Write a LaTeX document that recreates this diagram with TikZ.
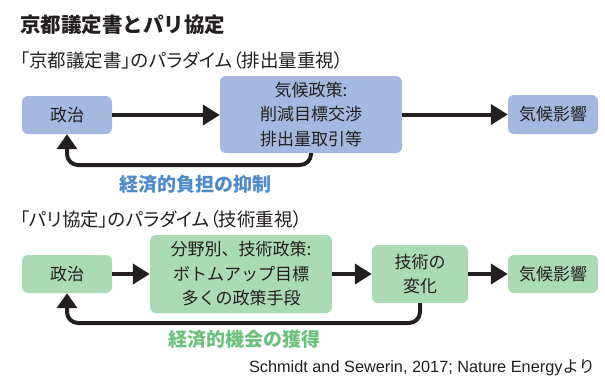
\documentclass[tikz,border=0pt]{standalone}
\usepackage{fontspec}
\setmainfont{Noto Sans CJK JP}
\newfontfamily\latinsans{Liberation Sans}
\newfontfamily\cjkpalt[RawFeature=+palt]{Noto Sans CJK JP}
\usetikzlibrary{arrows.meta}
\definecolor{bluebox}{HTML}{A4B8E0}
\definecolor{greenbox}{HTML}{AADBB4}
\definecolor{bluetxt}{HTML}{4F8BCB}
\definecolor{greentxt}{HTML}{6BC17C}
\definecolor{ink}{HTML}{231F20}
\begin{document}
\begin{tikzpicture}[x=1pt,y=-1pt,
  box/.style={rounded corners=6pt, inner sep=0pt, align=center, text=ink,
    font=\fontsize{17}{24.5}\selectfont},
  bbox/.style={box, fill=bluebox},
  gbox/.style={box, fill=greenbox},
  arr/.style={draw=ink, line width=4pt, -{Triangle[length=17pt,width=20pt]}},
  fb/.style={draw=ink, line width=4pt, rounded corners=11pt, -{Triangle[length=15pt,width=20pt]}},
  heading/.style={anchor=west, text=ink, inner sep=0pt},
  fblabel/.style={font=\fontsize{19}{21}\selectfont\bfseries, inner sep=0pt}
]
\useasboundingbox (0,0) rectangle (605,381);

\node[heading, font=\fontsize{20.5}{22}\selectfont\bfseries] (title) at (20,25) {京都議定書とパリ協定};
\node[heading, font=\cjkpalt\fontsize{18.5}{20}\selectfont] (sub1) at (20,60) {「京都議定書」のパラダイム（排出量重視）};
\node[heading, font=\cjkpalt\fontsize{18.5}{20}\selectfont] (sub2) at (20,219) {「パリ協定」のパラダイム（技術重視）};

% top row
\node[bbox, minimum width=90pt, minimum height=38pt] (p1) at (67,115) {政治};
\node[bbox, minimum width=182pt, minimum height=77pt] (pol1) at (311,114.5) {気候政策:\\削減目標交渉\\排出量取引等};
\node[bbox, minimum width=90pt, minimum height=39pt] (imp1) at (553,114.5) {気候影響};
\draw[arr] (p1.east) -- (pol1.west |- p1.east);
\draw[arr] (pol1.east) -- (imp1.west);
\coordinate (fb1) at (67,165);
\draw[fb] (pol1.south) |- (fb1) -- (p1.south);
\node[fblabel, text=bluetxt] (lab1) at (195,184) {経済的負担の抑制};

% bottom row
\node[gbox, minimum width=90pt, minimum height=38pt] (p2) at (67,274) {政治};
\node[gbox, minimum width=182pt, minimum height=78pt] (pol2) at (241,274) {分野別、技術政策:\\ボトムアップ目標\\多くの政策手段};
\node[gbox, minimum width=96pt, minimum height=58pt] (tech) at (420,274) {技術の\\変化};
\node[gbox, minimum width=90pt, minimum height=38pt] (imp2) at (553,274) {気候影響};
\draw[arr] (p2.east) -- (pol2.west);
\draw[arr] (pol2.east) -- (tech.west);
\draw[arr] (tech.east) -- (imp2.west);
\coordinate (fb2) at (67,323);
\draw[fb] (tech.south) |- (fb2) -- (p2.south);
\node[fblabel, text=greentxt] (lab2) at (244,339) {経済的機会の獲得};

\node[anchor=east, inner sep=0pt, text=ink, font=\fontsize{16.3}{18}\selectfont] (cite) at (595,368) {{\latinsans Schmidt and Sewerin, 2017; Nature Energy}より};
\end{tikzpicture}
\end{document}
